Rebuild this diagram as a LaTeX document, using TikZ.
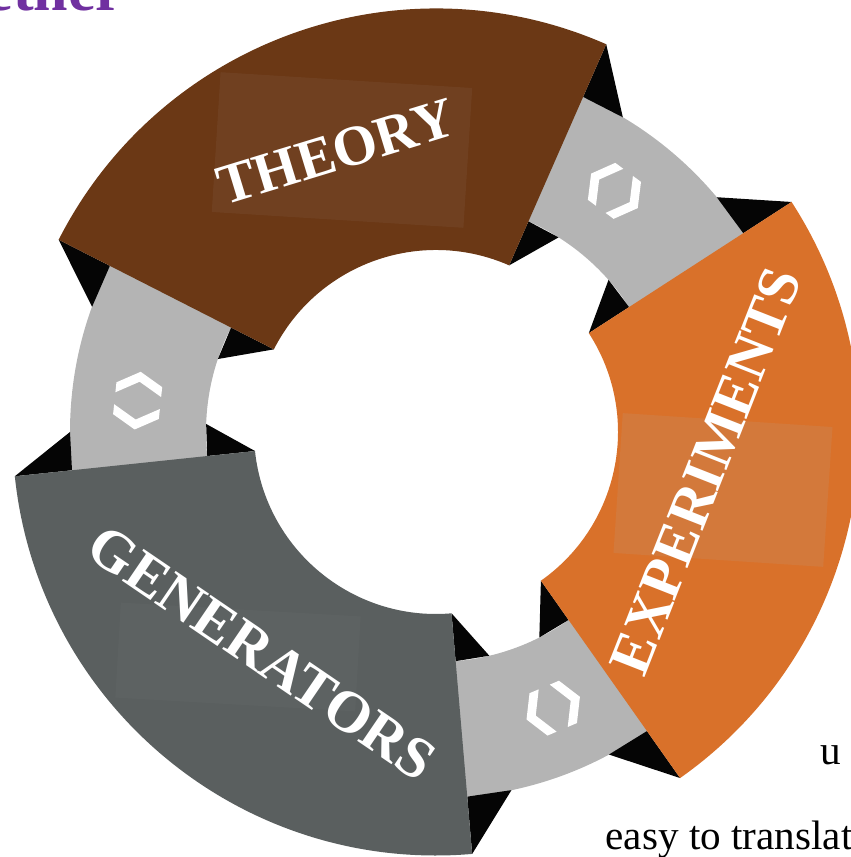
\documentclass[tikz,border=0pt]{standalone}
\usepackage{fontspec}
\setmainfont{Liberation Serif}

\definecolor{titlepurple}{HTML}{7030A0}
\definecolor{theorybrown}{HTML}{6B3815}
\definecolor{exporange}{HTML}{D9712A}
\definecolor{gengray}{HTML}{5A5F5F}
\definecolor{linkgray}{HTML}{B4B4B4}
\definecolor{foldblack}{HTML}{050505}

\begin{document}
\begin{tikzpicture}[x=0.01cm,y=0.01cm,
    cyclelabel/.style={text=white,font=\fontsize{16.7}{20}\selectfont\bfseries,inner sep=0pt},
    shadebox/.style={fill=gray!60,fill opacity=.13,inner sep=0pt},
    fold/.style={fill=foldblack},
    chevrons/.pic={
      \fill[white] (6,23) -- (16,23) -- (29,0) -- (16,-23) -- (6,-23) -- (19,0) -- cycle;
      \fill[white] (-6,23) -- (-16,23) -- (-29,0) -- (-16,-23) -- (-6,-23) -- (-19,0) -- cycle;
    }]
    \useasboundingbox (0,0) rectangle (851,857);
    \clip (0,0) rectangle (851,857);

    % Heading running off the top
    \node[anchor=base west,inner sep=0pt,text=titlepurple,
          font=\fontsize{17.6}{20}\selectfont\bfseries] (title) at (-15,846) {ether};

    \begin{scope}[shift={(436,425)}]
    % Draw connecting band
    \fill[linkgray,even odd rule] (0,0) circle (366) (0,0) circle (230);

    % Draw folded corners at the segment ends
    \fill[fold] (66.3:423.5) -- (66.3:366) -- (59.3:366) -- cycle;
    \fill[fold] (66.3:182) -- (66.3:230) -- (57.8:230) -- cycle;
    \fill[fold] (153:423.5) -- (153:366) -- (160:366) -- cycle;
    \fill[fold] (153:182) -- (153:230) -- (161.5:230) -- cycle;
    \fill[fold] (186:423.5) -- (186:366) -- (180:366) -- cycle;
    \fill[fold] (186:182) -- (186:230) -- (178:230) -- cycle;
    \fill[fold] (274.9:423.5) -- (274.9:366) -- (281.9:366) -- cycle;
    \fill[fold] (274.9:182) -- (274.9:230) -- (283.4:230) -- cycle;
    \fill[fold] (305.2:423.5) -- (305.2:366) -- (298.2:366) -- cycle;
    \fill[fold] (305.2:182) -- (305.2:230) -- (296.7:230) -- cycle;
    \fill[fold] (32.9:423.5) -- (32.9:366) -- (39.9:366) -- cycle;
    \fill[fold] (32.9:182) -- (32.9:230) -- (41.4:230) -- cycle;

    % Draw the three segments
    \fill[theorybrown] (66.3:182) arc[start angle=66.3,end angle=153,radius=182]
      -- (153:423.5) arc[start angle=153,end angle=66.3,radius=423.5] -- cycle;
    \fill[gengray] (186:182) arc[start angle=186,end angle=274.9,radius=182]
      -- (274.9:423.5) arc[start angle=274.9,end angle=186,radius=423.5] -- cycle;
    \fill[exporange] (-54.8:182) arc[start angle=-54.8,end angle=32.9,radius=182]
      -- (32.9:423.5) arc[start angle=32.9,end angle=-54.8,radius=423.5] -- cycle;

    % Arrows on the band
    \path (53.5:300) pic[rotate=143.5] {chevrons};
    \path (174:300) pic[rotate=264] {chevrons};
    \path (293:300) pic[rotate=23] {chevrons};
    \end{scope}

    % Light boxes behind the labels
    \node[shadebox,fill opacity=.07,minimum width=2.52cm,minimum height=1.4cm,rotate=-3.6] (theorybox) at (342,707) {};
    \node[shadebox,minimum width=2.1cm,minimum height=1.4cm,rotate=-3.8] (expbox) at (723,367) {};
    \node[shadebox,fill opacity=.04,minimum width=2.4cm,minimum height=0.95cm,rotate=-3.3] (genbox) at (238,200) {};

    % Labels
    \node[cyclelabel,font=\fontsize{16.2}{20}\selectfont\bfseries,rotate=17] (theory) at (336,705) {THEORY};
    \node[cyclelabel,rotate=68.5] (experiments) at (706,386) {EXPERIMENTS};
    \node[cyclelabel,rotate=-34.3] (generators) at (262,204) {GENERATORS};

    % Body text at the lower right
    \node[anchor=base west,inner sep=0pt,font=\fontsize{11.7}{14}\selectfont] (note1) at (820,92) {u};
    \node[anchor=base west,inner sep=0pt,font=\fontsize{11.7}{14}\selectfont] (note2) at (605,8) {easy to translat};
\end{tikzpicture}
\end{document}
